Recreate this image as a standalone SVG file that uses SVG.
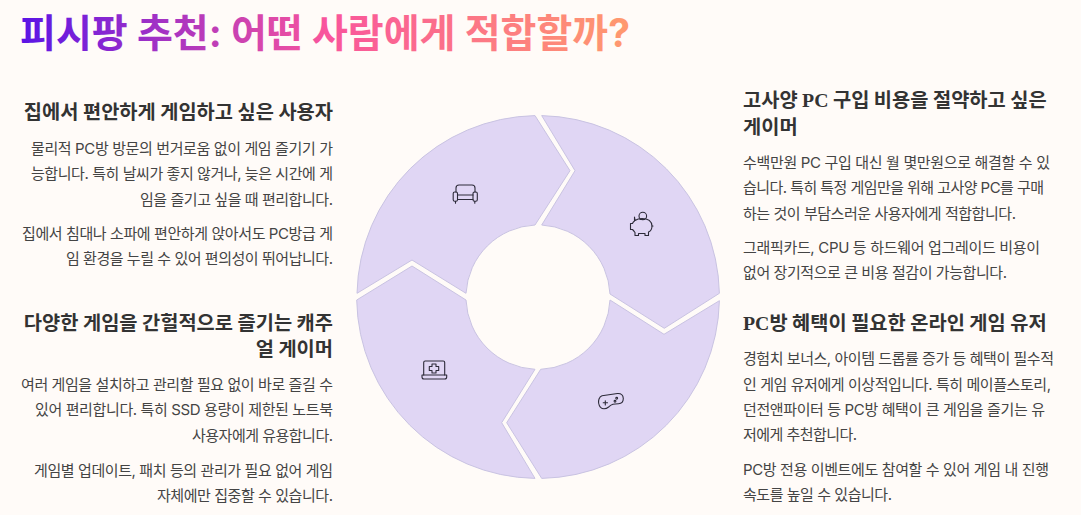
<svg xmlns="http://www.w3.org/2000/svg" width="1081" height="515" viewBox="0 0 1081 515">
<style>
text{font-family:Inter,"Noto Sans CJK KR","Noto Sans",sans-serif}
.t{font-size:39px;font-weight:700;fill:url(#tg)}
.h{font-size:19.8px;font-weight:700;fill:#333;font-family:"Noto Sans CJK KR","Noto Sans",sans-serif}
.b{font-size:15px;fill:#444}
.e{text-anchor:end}
.seg{fill:#e0d6f4;stroke:#c9c3e2;stroke-width:1}
.ic{fill:none;stroke:#2c2a38;stroke-width:1.1;stroke-linecap:round;stroke-linejoin:round}
.lat{font-family:"Liberation Serif","Noto Sans CJK KR",serif}
</style>
<defs>
<linearGradient id="tg" gradientUnits="userSpaceOnUse" x1="20" y1="0" x2="632" y2="0">
<stop offset="0" stop-color="#5a14e6"/><stop offset=".5" stop-color="#f9559c"/><stop offset="1" stop-color="#ff9a6e"/>
</linearGradient>
</defs>
<rect width="1081" height="515" fill="#fffbf8"/>
<text id="title" class="t" x="20" y="47" textLength="610">피시팡 추천: 어떤 사람에게 적합할까?</text>
<g id="segment-home">
<path class="seg" d="M357 293.3A181.5 181.5 0 0 1 535 115.6L570 170.7 535 225A72.5 72.5 0 0 0 466 293.3L412 260Z"/>
<g class="ic"><path d="M456 192V188Q456 185 459 185H472Q475 185 475 188V192"/><rect x="453.2" y="192" width="4.3" height="9.3" rx="1.5"/><rect x="473" y="192" width="4.3" height="9.3" rx="1.5"/><path d="M457.5 195H473M457.5 199.5H473M455.5 201.3V203.3M474.8 201.3V203.3"/></g>
</g>
<g id="segment-piggy">
<path class="seg" d="M541.7 115.6A181.5 181.5 0 0 1 719.4 293.3L664.3 328.3 610 294A72.5 72.5 0 0 0 541.7 225L575 170.7Z"/>
<g class="ic"><circle cx="642.8" cy="216" r="3.8"/><path d="M634.5 217L635 220.500Q638 218.500 642 218.500Q651.500 218.500 652 226Q652 230.500 648.500 232V235.500H645V233.500H638.500V235.500H635V232.500Q633.500 230.500 632.500 229.500H630.500V223.500H632.500Q633 222 634.500 221Z"/><path d="M652 226H653M640 219.500H644.500"/></g>
</g>
<g id="segment-game">
<path class="seg" d="M719.4 300.700A181.500 181.500 0 0 1 541.700 478.400L506.700 422.700 540.700 369.300A72.500 72.500 0 0 0 610 300L664 334.300Z"/>
<g class="ic"><path d="M602 395.800L617.500 393.500Q623 393.200 623.300 398.500Q623.300 403.500 618.500 403.700Q615 403.800 613 404.200Q611 404.800 609 406.700Q604 410.500 600.500 407.300Q597.500 403.500 599 399Q600 396.500 602 395.800Z"/><path d="M603.200 402.800H607.500M605.300 400.700V405"/><circle cx="616.700" cy="398.300" r=".9"/><circle cx="615" cy="401.300" r=".9"/></g>
</g>
<g id="segment-laptop">
<path class="seg" d="M356.700 300L412 266 466 300A72.500 72.500 0 0 0 535 369.300L501.700 422.700 535 478.400A181.500 181.500 0 0 1 356.700 300Z"/>
<g class="ic"><path d="M423.700 375V362.500Q423.700 361 425.200 361H443.200Q444.700 361 444.700 362.500V375"/><path d="M422 375H446.700V377Q446.700 379 444.700 379H424Q422 379 422 377Z"/><path d="M432 364H436V366.500H438.700V370.500H436V373H432V370.500H429.300V366.500H432Z"/></g>
</g>
<g id="card-home">
<text class="h e" x="333" y="119">집에서 편안하게 게임하고 싶은 사용자</text>
<text class="b e" x="333" y="154" textLength="302">물리적 PC방 방문의 번거로움 없이 게임 즐기기 가</text>
<text class="b e" x="333" y="179" textLength="302">능합니다. 특히 날씨가 좋지 않거나, 늦은 시간에 게</text>
<text class="b e" x="333" y="205" textLength="193">임을 즐기고 싶을 때 편리합니다.</text>
<text class="b e" x="333" y="239" textLength="311">집에서 침대나 소파에 편안하게 앉아서도 PC방급 게</text>
<text class="b e" x="333" y="264" textLength="267">임 환경을 누릴 수 있어 편의성이 뛰어납니다.</text>
</g>
<g id="card-laptop">
<text class="h e" x="333" y="330">다양한 게임을 간헐적으로 즐기는 캐주</text>
<text class="h e" x="333" y="356">얼 게이머</text>
<text class="b e" x="333" y="390" textLength="312">여러 게임을 설치하고 관리할 필요 없이 바로 즐길 수</text>
<text class="b e" x="333" y="415" textLength="298">있어 편리합니다. 특히 SSD 용량이 제한된 노트북</text>
<text class="b e" x="333" y="441" textLength="141">사용자에게 유용합니다.</text>
<text class="b e" x="333" y="476" textLength="299">게임별 업데이트, 패치 등의 관리가 필요 없어 게임</text>
<text class="b e" x="333" y="501" textLength="176">자체에만 집중할 수 있습니다.</text>
</g>
<g id="card-piggy">
<text class="h" x="743" y="107">고사양 <tspan class="lat">PC</tspan> 구입 비용을 절약하고 싶은</text>
<text class="h" x="743" y="134">게이머</text>
<text class="b" x="743" y="168" textLength="307">수백만원 PC 구입 대신 월 몇만원으로 해결할 수 있</text>
<text class="b" x="743" y="193" textLength="301">습니다. 특히 특정 게임만을 위해 고사양 PC를 구매</text>
<text class="b" x="743" y="219" textLength="273">하는 것이 부담스러운 사용자에게 적합합니다.</text>
<text class="b" x="743" y="253" textLength="297">그래픽카드, CPU 등 하드웨어 업그레이드 비용이</text>
<text class="b" x="743" y="278" textLength="264">없어 장기적으로 큰 비용 절감이 가능합니다.</text>
</g>
<g id="card-game">
<text class="h" x="743" y="330"><tspan class="lat">PC</tspan>방 혜택이 필요한 온라인 게임 유저</text>
<text class="b" x="743" y="364" textLength="311">경험치 보너스, 아이템 드롭률 증가 등 혜택이 필수적</text>
<text class="b" x="743" y="390" textLength="308">인 게임 유저에게 이상적입니다. 특히 메이플스토리,</text>
<text class="b" x="743" y="415" textLength="302">던전앤파이터 등 PC방 혜택이 큰 게임을 즐기는 유</text>
<text class="b" x="743" y="440" textLength="114">저에게 추천합니다.</text>
<text class="b" x="743" y="475" textLength="306">PC방 전용 이벤트에도 참여할 수 있어 게임 내 진행</text>
<text class="b" x="743" y="500" textLength="149">속도를 높일 수 있습니다.</text>
</g>
</svg>
